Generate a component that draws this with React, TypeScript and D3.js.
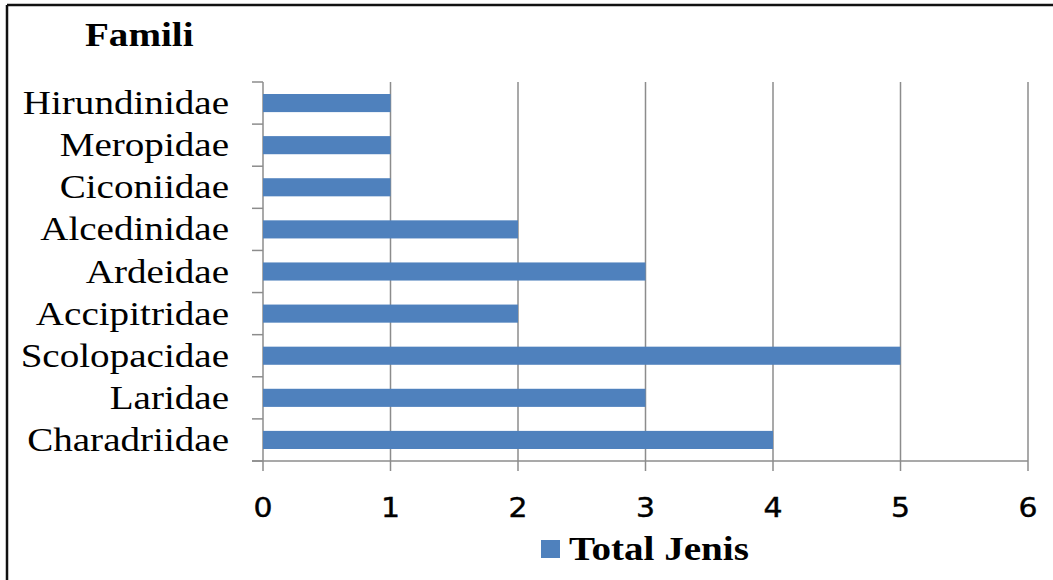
// horizontal bar chart: jumlah jenis per famili
import * as d3 from 'd3';

const categories = [
  'Charadriidae',
  'Laridae',
  'Scolopacidae',
  'Accipitridae',
  'Ardeidae',
  'Alcedinidae',
  'Ciconiidae',
  'Meropidae',
  'Hirundinidae',
];
const totalJenis = [4, 3, 5, 2, 3, 2, 1, 1, 1];
const xTicks = [0, 1, 2, 3, 4, 5, 6];
const seriesName = 'Total Jenis';
const axisTitle = 'Famili';

const W = 1053;
const H = 580;
const left = 263;
const right = 1028;
const top = 82;
const bottom = 461;
const barColor = '#4F81BD';
const gridColor = '#8c8c8c';
const serif = '"Liberation Serif", "Times New Roman", serif';
const sx = 1.15; // source picture is stretched sideways a bit

export default function App() {
  const x = d3.scaleLinear().domain([0, 6]).range([left, right]);
  // top of the list is the last category
  const y = d3
    .scaleBand()
    .domain([...categories].reverse())
    .range([top, bottom])
    .paddingInner(0.57)
    .paddingOuter(0.285);
  const band = (bottom - top) / categories.length;
  const boundaries = d3.range(categories.length + 1).map((i) => top + i * band);

  return (
    <svg
      width={W}
      height={H}
      style={{ position: 'absolute', left: 0, top: 0, background: '#fff' }}
    >
      {/* frame, only top and left edge are visible */}
      <line x1={7} y1={5} x2={W} y2={5} stroke="#111" strokeWidth={2.5} />
      <line x1={7} y1={5} x2={7} y2={H} stroke="#111" strokeWidth={2.5} />

      {/* gridlines and x ticks */}
      {xTicks.map((t) => (
        <line
          key={'g' + t}
          x1={x(t)}
          x2={x(t)}
          y1={top}
          y2={bottom + 10}
          stroke={gridColor}
          strokeWidth={1.5}
        />
      ))}
      {/* y axis tick marks on category boundaries */}
      {boundaries.map((b, i) => (
        <line key={'yt' + i} x1={left - 11} x2={left} y1={b} y2={b} stroke={gridColor} strokeWidth={1.5} />
      ))}
      <line x1={left - 11} x2={right} y1={bottom} y2={bottom} stroke={gridColor} strokeWidth={1.5} />

      {/* bars */}
      {categories.map((c, i) => (
        <rect
          key={c}
          x={x(0)}
          y={y(c)}
          width={x(totalJenis[i]) - x(0)}
          height={y.bandwidth()}
          fill={barColor}
        />
      ))}

      {/* category labels */}
      {categories.map((c) => (
        <text
          key={'l' + c}
          transform={`translate(229,${(y(c) as number) + y.bandwidth() / 2 + 11}) scale(${sx},1)`}
          textAnchor="end"
          fontFamily={serif}
          fontSize={34}
          fill="#000"
        >
          {c}
        </text>
      ))}

      {/* x tick labels */}
      {xTicks.map((t) => (
        <text
          key={'xl' + t}
          transform={`translate(${x(t)},517) scale(${sx},1)`}
          textAnchor="middle"
          fontFamily='"DejaVu Sans", Verdana, sans-serif'
          fontSize={26}
          stroke="#000"
          strokeWidth={0.4}
          fill="#000"
        >
          {t}
        </text>
      ))}

      {/* axis title */}
      <text
        transform={`translate(85,46) scale(${sx},1)`}
        fontFamily={serif}
        fontWeight="bold"
        fontSize={34}
        fill="#000"
      >
        {axisTitle}
      </text>

      {/* legend */}
      <rect x={541} y={540} width={19} height={18} fill={barColor} />
      <text
        transform={`translate(569,560) scale(${sx},1)`}
        fontFamily={serif}
        fontWeight="bold"
        fontSize={34}
        fill="#000"
      >
        {seriesName}
      </text>
    </svg>
  );
}
